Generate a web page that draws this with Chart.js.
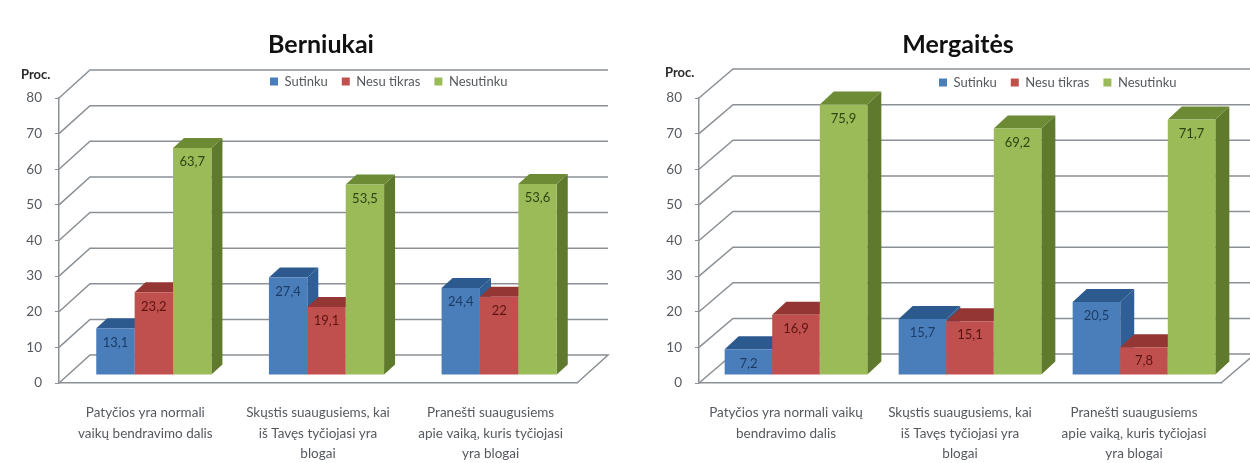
<!DOCTYPE html>
<html>
<head>
<meta charset="utf-8">
<title>Berniukai / Mergaitės</title>
<script src="https://cdn.jsdelivr.net/npm/chart.js@4"></script>
<style>
  html, body { margin: 0; padding: 0; background: #fff; }
  #wrap { width: 1250px; height: 463px; overflow: hidden; }
  canvas { float: left; filter: blur(0.7px); }
</style>
</head>
<body>
<div id="wrap">
  <canvas id="boys" width="625" height="463"></canvas>
  <canvas id="girls" width="625" height="463"></canvas>
</div>
<script>
// data
var seriesNames = ['Sutinku', 'Nesu tikras', 'Nesutinku'];
var yTicks = [0, 10, 20, 30, 40, 50, 60, 70, 80];

var categoriesBoys = [
  ['Patyčios yra normali', 'vaikų bendravimo dalis'],
  ['Skųstis suaugusiems, kai', 'iš Tavęs tyčiojasi yra', 'blogai'],
  ['Pranešti suaugusiems', 'apie vaiką, kuris tyčiojasi', 'yra blogai']
];
var categoriesGirls = [
  ['Patyčios yra normali vaikų', 'bendravimo dalis'],
  ['Skųstis suaugusiems, kai', 'iš Tavęs tyčiojasi yra', 'blogai'],
  ['Pranešti suaugusiems', 'apie vaiką, kuris tyčiojasi', 'yra blogai']
];

var sutinkuBoys = [13.1, 27.4, 24.4];
var nesuTikrasBoys = [23.2, 19.1, 22];
var nesutinkuBoys = [63.7, 53.5, 53.6];

var sutinkuGirls = [7.2, 15.7, 20.5];
var nesuTikrasGirls = [16.9, 15.1, 7.8];
var nesutinkuGirls = [75.9, 69.2, 71.7];

// front, top and side faces, label colour
var faces = [
  { front: '#4a7ebb', top: '#2c5a8f', side: '#2f5f96', text: '#1c3c66' },
  { front: '#c0504d', top: '#943634', side: '#8f3230', text: '#5c1411' },
  { front: '#9bbb59', top: '#6d8a35', side: '#5f7a2d', text: '#2c4410' }
];
var gridColor = '#8b9095';
var textColor = '#55595e';

// draws the walls, the 3D faces and the value labels around the normal bars
var fake3d = {
  id: 'fake3d',
  afterLayout: function (chart) {
    var o = chart.options.plugins.fake3d;
    chart.titleBlock.left = o.titleX - 100;
    chart.titleBlock.right = o.titleX + 100;
    chart.titleBlock.top = o.titleTop;
    var w = chart.legend.right - chart.legend.left;
    chart.legend.left = o.legendX;
    chart.legend.right = o.legendX + w;
    chart.legend.top = o.legendTop;
  },
  beforeDraw: function (chart) {
    var o = chart.options.plugins.fake3d;
    var ctx = chart.ctx, y = chart.scales.y, a = chart.chartArea;
    ctx.save();
    ctx.strokeStyle = gridColor;
    ctx.lineWidth = 1.5;
    yTicks.forEach(function (v) {
      var py = y.getPixelForValue(v);
      ctx.beginPath();
      ctx.moveTo(a.left, py);
      ctx.lineTo(a.left + o.wallX, py - o.wallY);
      ctx.lineTo(a.right + o.wallX, py - o.wallY);
      if (v === 0) ctx.lineTo(a.right, py);
      ctx.stroke();
    });
    ctx.restore();
  },
  // bars go left to right here, chart.js would paint the last series first
  beforeDatasetDraw: function () {
    return false;
  },
  afterDatasetsDraw: function (chart) {
    var o = chart.options.plugins.fake3d;
    var ctx = chart.ctx;
    ctx.save();
    ctx.translate(o.barX, -o.barY);
    chart.data.datasets.forEach(function (ds, i) {
      var f = faces[i];
      chart.getDatasetMeta(i).data.forEach(function (bar) {
        var l = bar.x - bar.width / 2, r = bar.x + bar.width / 2;
        ctx.fillStyle = f.side;
        ctx.beginPath();
        ctx.moveTo(r, bar.y);
        ctx.lineTo(r + o.depthX, bar.y - o.depthY);
        ctx.lineTo(r + o.depthX, bar.base - o.depthY);
        ctx.lineTo(r, bar.base);
        ctx.closePath();
        ctx.fill();
        ctx.fillStyle = f.top;
        ctx.beginPath();
        ctx.moveTo(l, bar.y);
        ctx.lineTo(l + o.depthX, bar.y - o.depthY);
        ctx.lineTo(r + o.depthX, bar.y - o.depthY);
        ctx.lineTo(r, bar.y);
        ctx.closePath();
        ctx.fill();
        bar.draw(ctx);
      });
    });
    ctx.font = '13px Lato';
    ctx.textAlign = 'center';
    ctx.textBaseline = 'middle';
    chart.data.datasets.forEach(function (ds, i) {
      ctx.fillStyle = faces[i].text;
      chart.getDatasetMeta(i).data.forEach(function (bar, j) {
        var label = String(ds.data[j]).replace('.', ',');
        ctx.fillText(label, bar.x, bar.y + 14);
      });
    });
    ctx.restore();
    ctx.save();
    ctx.font = 'bold 13px Lato';
    ctx.textAlign = 'left';
    ctx.textBaseline = 'middle';
    ctx.fillStyle = '#2a2a2a';
    ctx.fillText('Proc.', o.procX, o.procY);
    ctx.restore();
  }
};

function makeChart(id, titleText, labels, a, b, c, g) {
  return new Chart(document.getElementById(id), {
    type: 'bar',
    data: {
      labels: labels,
      datasets: [
        { label: seriesNames[0], data: a, backgroundColor: faces[0].front },
        { label: seriesNames[1], data: b, backgroundColor: faces[1].front },
        { label: seriesNames[2], data: c, backgroundColor: faces[2].front }
      ]
    },
    plugins: [fake3d],
    options: {
      responsive: false,
      animation: false,
      layout: { padding: { left: 0, right: 625 - g.right, top: 0, bottom: 0 } },
      datasets: { bar: { barPercentage: 1, categoryPercentage: g.groupWidth } },
      plugins: {
        title: {
          display: true,
          text: titleText,
          color: '#111',
          font: { family: 'Lato', size: 25, weight: 'bold' },
          padding: { top: 0, bottom: 31 }
        },
        legend: {
          display: true,
          position: 'top',
          align: 'start',
          labels: {
            boxWidth: 8,
            boxHeight: 8,
            padding: 14,
            color: textColor,
            font: { family: 'Lato', size: 13 }
          }
        },
        tooltip: { enabled: false },
        fake3d: g
      },
      scales: {
        x: {
          afterFit: function (s) { s.height = 80; },
          grid: { display: false },
          border: { color: gridColor, width: 1.5 },
          ticks: {
            color: textColor,
            padding: 12,
            maxRotation: 0,
            autoSkip: false,
            font: { family: 'Lato', size: 13.5, lineHeight: 1.5 }
          }
        },
        y: {
          min: 0,
          max: 80,
          afterFit: function (s) { s.width = g.left; },
          grid: { drawOnChartArea: false, drawTicks: true, tickLength: 4, color: gridColor },
          border: { color: gridColor, width: 1.5 },
          ticks: {
            stepSize: 10,
            color: textColor,
            padding: 13,
            font: { family: 'Lato', size: 13.5 }
          }
        }
      }
    }
  });
}

makeChart('boys', 'Berniukai', categoriesBoys, sutinkuBoys, nesuTikrasBoys, nesutinkuBoys, {
  left: 59, right: 577, groupWidth: 0.667,
  wallX: 31, wallY: 28, barX: 8.5, barY: 8, depthX: 11, depthY: 10,
  titleX: 321, titleTop: 30, legendX: 256, legendTop: 61, procX: 21, procY: 75
});

makeChart('girls', 'Mergaitės', categoriesGirls, sutinkuGirls, nesuTikrasGirls, nesutinkuGirls, {
  left: 74, right: 596, groupWidth: 0.82,
  wallX: 34, wallY: 29, barX: 10, barY: 8, depthX: 14, depthY: 13,
  titleX: 333, titleTop: 30, legendX: 300, legendTop: 62, procX: 40, procY: 73
});
</script>
</body>
</html>
